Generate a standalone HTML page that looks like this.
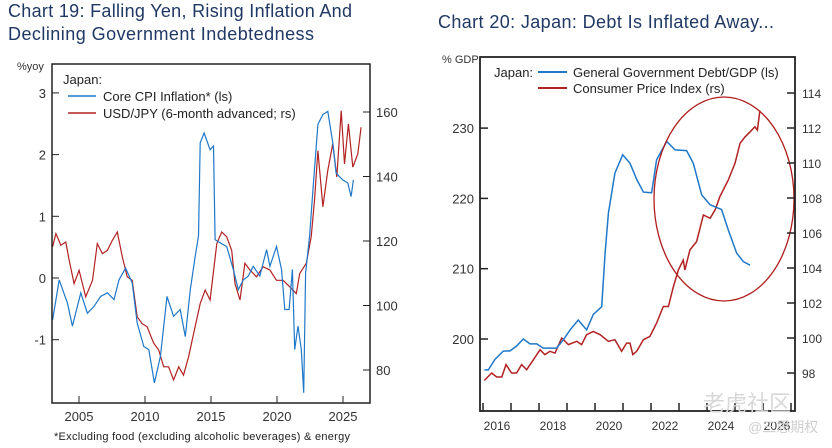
<!DOCTYPE html>
<html><head><meta charset="utf-8"><style>
body{margin:0;background:#fff;width:832px;height:448px;overflow:hidden}
svg{display:block;font-family:"Liberation Sans","Noto Sans CJK SC",sans-serif}
</style></head><body>
<svg id="s" width="832" height="448" viewBox="0 0 832 448">
<text x="8" y="17" font-size="18" fill="#1f3864" textLength="344">Chart 19: Falling Yen, Rising Inflation And</text>
<text x="8" y="40" font-size="18" fill="#1f3864" textLength="306">Declining Government Indebtedness</text>
<text x="438" y="28" font-size="18" fill="#1f3864" textLength="336">Chart 20: Japan: Debt Is Inflated Away...</text>
<g id="c19"></g>
<g id="c20"></g>
<text x="703" y="411" font-size="22" fill="#d8d8d8">老虎社区</text>
<text x="748" y="432" font-size="14" fill="#cfcfcf">@三思期权</text>
</svg>
<script>
// Chart 19 data
const cpiYears=[2003.0,2003.5,2004.13,2004.5,2005.14,2005.64,2006.14,2006.64,2007.15,2007.65,2008.03,2008.53,2009.03,2009.41,2009.91,2010.29,2010.71,2011.17,2011.67,2012.17,2012.67,2013.05,2013.43,2013.8,2014.05,2014.18,2014.48,2014.93,2015.19,2015.31,2015.69,2016.19,2016.69,2017.07,2017.45,2017.82,2018.2,2018.7,2019.21,2019.46,2019.96,2020.34,2020.59,2020.92,2021.17,2021.34,2021.59,2021.84,2022.02,2022.17,2022.47,2022.72,2023.1,2023.48,2023.85,2024.23,2024.48,2024.98,2025.36,2025.61,2025.79];
const cpiValues=[-0.68,-0.03,-0.41,-0.78,-0.24,-0.57,-0.46,-0.30,-0.24,-0.35,-0.03,0.16,-0.08,-0.73,-1.11,-1.16,-1.70,-1.27,-0.30,-0.62,-0.51,-0.95,-0.19,0.35,0.68,2.19,2.35,2.08,2.14,0.62,0.57,0.51,0.14,-0.19,-0.03,0.03,0.19,0.03,0.46,0.19,0.51,0.14,-0.51,-0.51,0.14,-1.16,-0.78,-1.16,-1.86,0.08,0.68,1.42,2.49,2.65,2.70,2.19,1.70,1.59,1.54,1.32,1.59];
const fxYears=[2003.0,2003.25,2003.63,2004.0,2004.26,2004.63,2005.01,2005.26,2005.51,2006.02,2006.39,2006.77,2007.15,2007.52,2007.9,2008.28,2008.65,2009.03,2009.41,2009.78,2010.16,2010.66,2011.04,2011.42,2011.79,2012.17,2012.55,2012.92,2013.3,2013.68,2014.18,2014.56,2014.93,2015.44,2015.81,2016.19,2016.57,2016.82,2017.2,2017.57,2017.95,2018.45,2018.95,2019.46,2019.96,2020.46,2020.96,2021.46,2021.72,2022.22,2022.59,2022.84,2023.1,2023.48,2023.85,2024.23,2024.53,2024.86,2025.11,2025.41,2025.74,2026.12,2026.37];
const fxValues=[118.2,122.3,118.7,119.7,114.0,106.8,110.9,106.8,102.7,107.8,119.2,116.1,117.1,120.2,122.8,115.1,108.9,107.8,96.5,94.4,93.4,88.3,86.2,81.0,81.0,76.9,81.0,78.4,84.1,91.3,100.6,104.8,101.7,119.2,122.8,121.3,117.1,106.8,101.7,113.1,111.0,108.9,112.0,111.0,107.8,107.8,105.8,103.7,109.9,113.1,121.3,132.6,148.0,130.6,141.9,150.2,139.8,160.4,143.9,156.3,142.9,147.0,155.3];
const c19LeftTicks=[3,2,1,0,-1];
const c19RightTicks=[160,140,120,100,80];
const c19XTicks=[2005,2010,2015,2020,2025];
// Chart 20 data
const debtYears=[2016.05,2016.19,2016.43,2016.73,2016.96,2017.2,2017.44,2017.68,2017.92,2018.15,2018.63,2018.87,2019.11,2019.4,2019.7,2019.94,2020.24,2020.36,2020.48,2020.71,2020.99,2021.25,2021.49,2021.73,2022.02,2022.2,2022.56,2022.86,2023.27,2023.51,2023.81,2024.11,2024.52,2024.76,2025.06,2025.3,2025.54];
const debtValues=[195.6,195.6,197.1,198.3,198.3,199.0,200.0,199.3,199.3,198.7,198.7,199.9,201.3,202.7,201.3,203.5,204.6,212.2,217.9,223.6,226.2,225.0,222.7,220.9,220.8,225.5,228.1,226.9,226.8,225.0,220.5,219.1,218.4,215.5,212.2,211.0,210.5];
const priceYears=[2016.05,2016.31,2016.49,2016.67,2016.82,2017.02,2017.2,2017.38,2017.56,2017.8,2018.04,2018.21,2018.39,2018.57,2018.81,2019.05,2019.35,2019.52,2019.7,2019.94,2020.18,2020.48,2020.71,2020.95,2021.13,2021.25,2021.35,2021.49,2021.73,2021.96,2022.2,2022.44,2022.62,2022.8,2022.98,2023.15,2023.21,2023.39,2023.63,2023.87,2024.11,2024.29,2024.46,2024.76,2025.0,2025.18,2025.36,2025.54,2025.71,2025.8,2025.89];
const priceValues=[97.58,98.0,97.77,97.77,98.48,98.0,98.0,98.48,98.19,98.76,99.33,99.05,99.24,99.14,100.0,99.62,99.81,99.62,100.19,100.38,100.19,99.81,99.9,99.24,99.71,99.71,99.05,99.24,99.9,100.09,100.85,101.8,101.8,102.94,103.89,104.46,103.89,105.03,105.51,107.03,106.84,107.32,108.08,109.03,109.98,111.12,111.5,111.78,112.07,111.88,113.0];
const c20LeftTicks=[230,220,210,200];
const c20RightTicks=[114,112,110,108,106,104,102,100,98];
const c20XTicks=[2016,2017,2018,2019,2020,2021,2022,2023,2024,2025,2026,2027];
const c20XLabels=[2016,2018,2020,2022,2024,2026];

const NS='http://www.w3.org/2000/svg';
function mk(p,tag,attrs,txt){const e=document.createElementNS(NS,tag);for(const k in attrs)e.setAttribute(k,attrs[k]);if(txt!==undefined)e.textContent=txt;p.appendChild(e);return e;}
function poly(xs,ys,fx,fy){return xs.map((t,i)=>fx(t).toFixed(1)+','+fy(ys[i]).toFixed(1)).join(' ');}

// ---- Chart 19
(function(){
const g=document.getElementById('c19');
const L=52,R=370,T=64,B=403;
const x=t=>79+(t-2005)*13.2;
const yl=v=>278-61.7*v;
const yr=v=>370-(v-80)*3.225;
let e=mk(g,'polyline',{points:poly(fxYears,fxValues,x,yr),fill:'none',stroke:'#b22222','stroke-width':1.2});

e=mk(g,'polyline',{points:poly(cpiYears,cpiValues,x,yl),fill:'none',stroke:'#1f78c8','stroke-width':1.2});

e=mk(g,'rect',{x:L,y:T,width:R-L,height:B-T,fill:'none',stroke:'#222','stroke-width':1.5});

c19LeftTicks.forEach(v=>{
 mk(g,'line',{x1:L,x2:L+7,y1:yl(v),y2:yl(v),stroke:'#222'});
 e=mk(g,'text',{x:46,y:yl(v)+5,'font-size':13,fill:'#333','text-anchor':'end'},String(v));
 
});
c19RightTicks.forEach(v=>{
 mk(g,'line',{x1:R-7,x2:R,y1:yr(v),y2:yr(v),stroke:'#222'});
 e=mk(g,'text',{x:376,y:yr(v)+5,'font-size':13,fill:'#333'},String(v));
 
});
c19XTicks.forEach(v=>{
 mk(g,'line',{x1:x(v),x2:x(v),y1:B-7,y2:B,stroke:'#222'});
 e=mk(g,'text',{x:x(v),y:421,'font-size':13,fill:'#333','text-anchor':'middle'},String(v));
 
});
e=mk(g,'text',{x:17,y:70,'font-size':11,fill:'#333'},'%yoy');

e=mk(g,'text',{x:63,y:84,'font-size':13,fill:'#222'},'Japan:');

mk(g,'line',{x1:68,x2:96,y1:96,y2:96,stroke:'#1f78c8','stroke-width':1.5});
e=mk(g,'text',{x:103,y:101,'font-size':13,fill:'#222'},'Core CPI Inflation* (ls)');

mk(g,'line',{x1:68,x2:96,y1:113,y2:113,stroke:'#b22222','stroke-width':1.5});
e=mk(g,'text',{x:103,y:118,'font-size':13,fill:'#222'},'USD/JPY (6-month advanced; rs)');

e=mk(g,'text',{x:54,y:440,'font-size':11,fill:'#222',textLength:296},'*Excluding food (excluding alcoholic beverages) & energy');

})();

// ---- Chart 20
(function(){
const g=document.getElementById('c20');
const L=480,R=795,T=57,B=411;
const x=t=>511+(t-2017)*28;
const yl=v=>339-(v-200)*7.03;
const yr=v=>373-(v-98)*17.5;
let e=mk(g,'polyline',{points:poly(priceYears,priceValues,x,yr),fill:'none',stroke:'#b22222','stroke-width':1.5});

e=mk(g,'polyline',{points:poly(debtYears,debtValues,x,yl),fill:'none',stroke:'#1f78c8','stroke-width':1.5});

e=mk(g,'ellipse',{cx:724,cy:199,rx:70,ry:102,fill:'none',stroke:'#b01c1c','stroke-width':1.3});

e=mk(g,'rect',{x:L,y:T,width:R-L,height:B-T,fill:'none',stroke:'#222','stroke-width':1.8});

c20LeftTicks.forEach(v=>{
 mk(g,'line',{x1:L,x2:L+8,y1:yl(v),y2:yl(v),stroke:'#222','stroke-width':1.5});
 e=mk(g,'text',{x:474,y:yl(v)+5,'font-size':13,fill:'#333','text-anchor':'end'},String(v));
 
});
c20RightTicks.forEach(v=>{
 mk(g,'line',{x1:R-8,x2:R,y1:yr(v),y2:yr(v),stroke:'#222','stroke-width':1.5});
 e=mk(g,'text',{x:802,y:yr(v)+5,'font-size':12,fill:'#333'},String(v));
 
});
c20XTicks.forEach(v=>{
 if(x(v)>L&&x(v)<R) mk(g,'line',{x1:x(v),x2:x(v),y1:B-8,y2:B,stroke:'#222','stroke-width':1.5});
});
c20XLabels.forEach(v=>{
 e=mk(g,'text',{x:x(v+0.5),y:430,'font-size':12,fill:'#333','text-anchor':'middle'},String(v));
 
});
e=mk(g,'text',{x:442,y:63,'font-size':11,fill:'#333'},'% GDP');

e=mk(g,'text',{x:494,y:77,'font-size':13,fill:'#222'},'Japan:');

mk(g,'line',{x1:538,x2:567,y1:72,y2:72,stroke:'#1f78c8','stroke-width':2});
e=mk(g,'text',{x:573,y:77,'font-size':13,fill:'#222'},'General Government Debt/GDP (ls)');

mk(g,'line',{x1:538,x2:567,y1:88,y2:88,stroke:'#b22222','stroke-width':2});
e=mk(g,'text',{x:573,y:93,'font-size':13,fill:'#222'},'Consumer Price Index (rs)');

})();
</script>
</body></html>
